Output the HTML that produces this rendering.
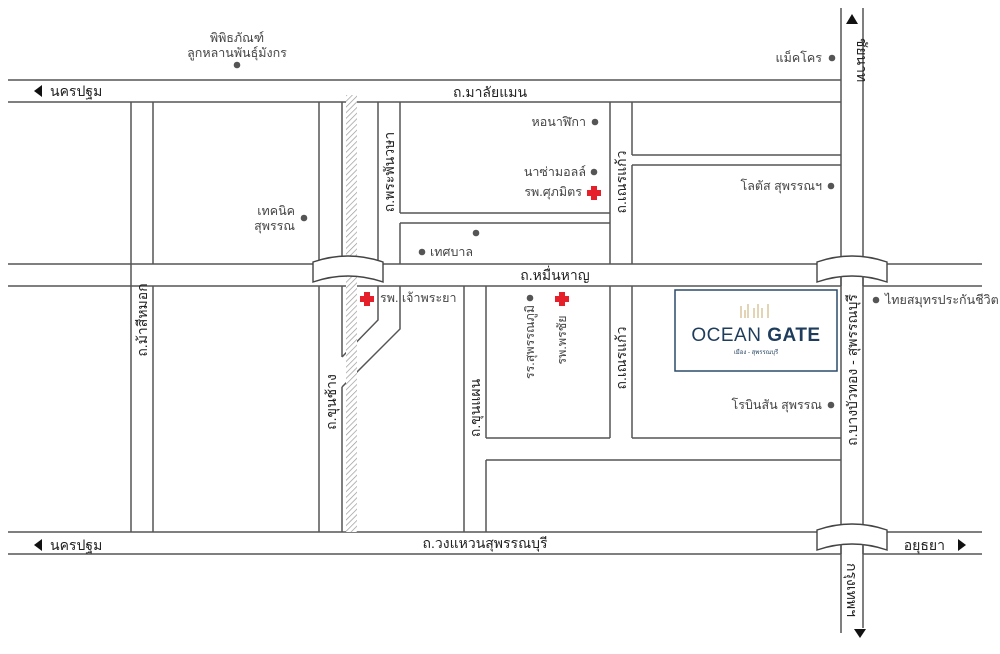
<!DOCTYPE html>
<html><head><meta charset="utf-8"><style>
html,body{margin:0;padding:0;background:#fff}
svg{display:block}
text{font-family:"Liberation Sans","Noto Sans CJK SC",sans-serif;fill:#444;font-size:12.5px}
.r{font-size:14px;fill:#222}
</style></head><body>
<svg width="1000" height="654" viewBox="0 0 1000 654" xmlns="http://www.w3.org/2000/svg">
<defs>
<pattern id="h" width="4" height="4" patternUnits="userSpaceOnUse" patternTransform="rotate(45)">
<rect width="4" height="4" fill="#fff"/><line x1="0" y1="0" x2="0" y2="4" stroke="#999" stroke-width="1.4"/>
</pattern>
</defs>
<g stroke="#555" stroke-width="1.5" fill="none">
<!-- top road -->
<line x1="8" y1="80" x2="841" y2="80"/>
<line x1="8" y1="102" x2="841" y2="102"/>
<!-- หมื่นหาญ -->
<line x1="8" y1="264" x2="841" y2="264"/><line x1="863" y1="264" x2="982" y2="264"/>
<line x1="8" y1="286" x2="841" y2="286"/><line x1="863" y1="286" x2="982" y2="286"/>
<!-- วงแหวน -->
<line x1="8" y1="532" x2="841" y2="532"/><line x1="863" y1="532" x2="982" y2="532"/>
<line x1="8" y1="554" x2="841" y2="554"/><line x1="863" y1="554" x2="982" y2="554"/>
<!-- main right -->
<line x1="841" y1="8" x2="841" y2="633"/>
<line x1="863" y1="8" x2="863" y2="628"/>
<!-- left road -->
<line x1="131" y1="102" x2="131" y2="532"/>
<line x1="153" y1="102" x2="153" y2="264"/><line x1="153" y1="286" x2="153" y2="532"/>
<!-- ขุนช้าง -->
<line x1="319" y1="102" x2="319" y2="264"/><line x1="319" y1="286" x2="319" y2="532"/>
<line x1="342" y1="102" x2="342" y2="264"/><line x1="342" y1="286" x2="342" y2="357"/><line x1="342" y1="387" x2="342" y2="532"/>
<!-- พระพันวษา -->
<line x1="378" y1="102" x2="378" y2="264"/>
<line x1="400" y1="102" x2="400" y2="213"/><line x1="400" y1="223" x2="400" y2="264"/>
<polyline points="378,286 378,320 342,357"/>
<polyline points="400,286 400,329 342,387"/>
<line x1="400" y1="213" x2="610" y2="213"/><line x1="400" y1="223" x2="610" y2="223"/>
<!-- เณรแก้ว -->
<line x1="610" y1="102" x2="610" y2="264"/>
<line x1="632" y1="102" x2="632" y2="155"/><line x1="632" y1="165" x2="632" y2="264"/>
<line x1="632" y1="155" x2="841" y2="155"/><line x1="632" y1="165" x2="841" y2="165"/>
<line x1="610" y1="286" x2="610" y2="438"/><line x1="632" y1="286" x2="632" y2="438"/>
<line x1="486" y1="438" x2="610" y2="438"/><line x1="632" y1="438" x2="841" y2="438"/>
<line x1="486" y1="460" x2="841" y2="460"/>
<!-- ขุนแผน -->
<line x1="464" y1="286" x2="464" y2="532"/>
<line x1="486" y1="286" x2="486" y2="438"/><line x1="486" y1="460" x2="486" y2="532"/>
</g>
<!-- rail hatch -->
<rect x="346" y="95" width="11" height="437" fill="url(#h)"/>
<!-- bridges -->
<g fill="#fff" stroke="#444" stroke-width="1.4">
<path d="M313,262 Q348,250 383,262 L383,282 Q348,270 313,282 Z"/>
<path d="M817,262 Q852,250 887,262 L887,282 Q852,270 817,282 Z"/>
<path d="M817,530 Q852,518 887,530 L887,550 Q852,538 817,550 Z"/>
</g>
<line x1="841" y1="276" x2="841" y2="286" stroke="#555" stroke-width="1.5"/>
<line x1="863" y1="276" x2="863" y2="286" stroke="#555" stroke-width="1.5"/>
<line x1="841" y1="544" x2="841" y2="554" stroke="#555" stroke-width="1.5"/>
<line x1="863" y1="544" x2="863" y2="554" stroke="#555" stroke-width="1.5"/>
<!-- arrows -->
<g fill="#111">
<polygon points="852,14 846,24 858,24"/>
<polygon points="860,638 854,629 866,629"/>
<polygon points="34,91 42,85 42,97"/>
<polygon points="34,545 42,539 42,551"/>
<polygon points="966,545 958,539 958,551"/>
</g>
<!-- dots -->
<g fill="#555">
<circle cx="237" cy="65" r="3.3"/><circle cx="832" cy="58" r="3.3"/>
<circle cx="595" cy="122" r="3.3"/><circle cx="594" cy="172" r="3.3"/>
<circle cx="831" cy="186" r="3.3"/><circle cx="304" cy="218" r="3.3"/>
<circle cx="476" cy="233" r="3.3"/><circle cx="422" cy="252" r="3.3"/>
<circle cx="530" cy="298" r="3.3"/><circle cx="876" cy="300" r="3.3"/>
<circle cx="831" cy="405" r="3.3"/>
</g>
<g fill="#e5202a">
<path d="M591,186h6v4h4v6h-4v4h-6v-4h-4v-6h4z"/>
<path d="M364,292h6v4h4v6h-4v4h-6v-4h-4v-6h4z"/>
<path d="M559,292h6v4h4v6h-4v4h-6v-4h-4v-6h4z"/>
</g>
<!-- labels -->
<text x="237" y="42" text-anchor="middle">พิพิธภัณฑ์</text>
<text x="237" y="57" text-anchor="middle">ลูกหลานพันธุ์มังกร</text>
<text x="50" y="96" class="r">นครปฐม</text>
<text x="50" y="550" class="r">นครปฐม</text>
<text x="945" y="550" class="r" text-anchor="end">อยุธยา</text>
<text x="490" y="97" class="r" text-anchor="middle">ถ.มาลัยแมน</text>
<text x="555" y="280" class="r" text-anchor="middle">ถ.หมื่นหาญ</text>
<text x="485" y="548" class="r" text-anchor="middle">ถ.วงแหวนสุพรรณบุรี</text>
<text x="822" y="62" text-anchor="end">แม็คโคร</text>
<text x="586" y="126" text-anchor="end">หอนาฬิกา</text>
<text x="586" y="176" text-anchor="end">นาซ่ามอลล์</text>
<text x="582" y="196" text-anchor="end">รพ.ศุภมิตร</text>
<text x="822" y="190" text-anchor="end">โลตัส สุพรรณฯ</text>
<text x="295" y="215" text-anchor="end">เทคนิค</text>
<text x="295" y="230" text-anchor="end">สุพรรณ</text>
<text x="430" y="256">เทศบาล</text>
<text x="380" y="302">รพ. เจ้าพระยา</text>
<text x="885" y="304">ไทยสมุทรประกันชีวิต</text>
<text x="822" y="409" text-anchor="end">โรบินสัน สุพรรณ</text>
<text transform="translate(534,342) rotate(-90)" text-anchor="middle">รร.สุพรรณภูมิ</text>
<text transform="translate(566,340) rotate(-90)" text-anchor="middle">รพ.พรชัย</text>
<g class="r">
<text class="r" transform="translate(394,172) rotate(-90)" text-anchor="middle">ถ.พระพันวษา</text>
<text class="r" transform="translate(626,182) rotate(-90)" text-anchor="middle">ถ.เณรแก้ว</text>
<text class="r" transform="translate(626,358) rotate(-90)" text-anchor="middle">ถ.เณรแก้ว</text>
<text class="r" transform="translate(147,320) rotate(-90)" text-anchor="middle">ถ.ม้าสีหมอก</text>
<text class="r" transform="translate(336,402) rotate(-90)" text-anchor="middle">ถ.ขุนช้าง</text>
<text class="r" transform="translate(480,408) rotate(-90)" text-anchor="middle">ถ.ขุนแผน</text>
<text class="r" transform="translate(857,370) rotate(-90)" text-anchor="middle">ถ.บางบัวทอง - สุพรรณบุรี</text>
<text class="r" transform="translate(857,60) rotate(90)" text-anchor="middle">ชัยนาท</text>
<text class="r" transform="translate(847,590) rotate(90)" text-anchor="middle">กรุงเทพฯ</text>
</g>
<!-- ocean gate -->
<rect x="675" y="290" width="162" height="81" fill="#fff" stroke="#2b4a6b" stroke-width="1.5"/>
<g stroke="#c9a96e" stroke-width="1">
<line x1="741" y1="306" x2="741" y2="318"/><line x1="745" y1="310" x2="745" y2="318"/>
<line x1="748" y1="304" x2="748" y2="318"/><line x1="754" y1="308" x2="754" y2="318"/>
<line x1="758" y1="304" x2="758" y2="318"/><line x1="762" y1="308" x2="762" y2="318"/>
<line x1="768" y1="304" x2="768" y2="318"/>
</g>
<text x="756" y="341" text-anchor="middle" style="font-size:19px;fill:#1e3d5c;letter-spacing:0.5px">OCEAN <tspan font-weight="bold">GATE</tspan></text>
<text x="756" y="354" text-anchor="middle" style="font-size:6px;fill:#1e3d5c">เมือง - สุพรรณบุรี</text>
</svg>
</body></html>
